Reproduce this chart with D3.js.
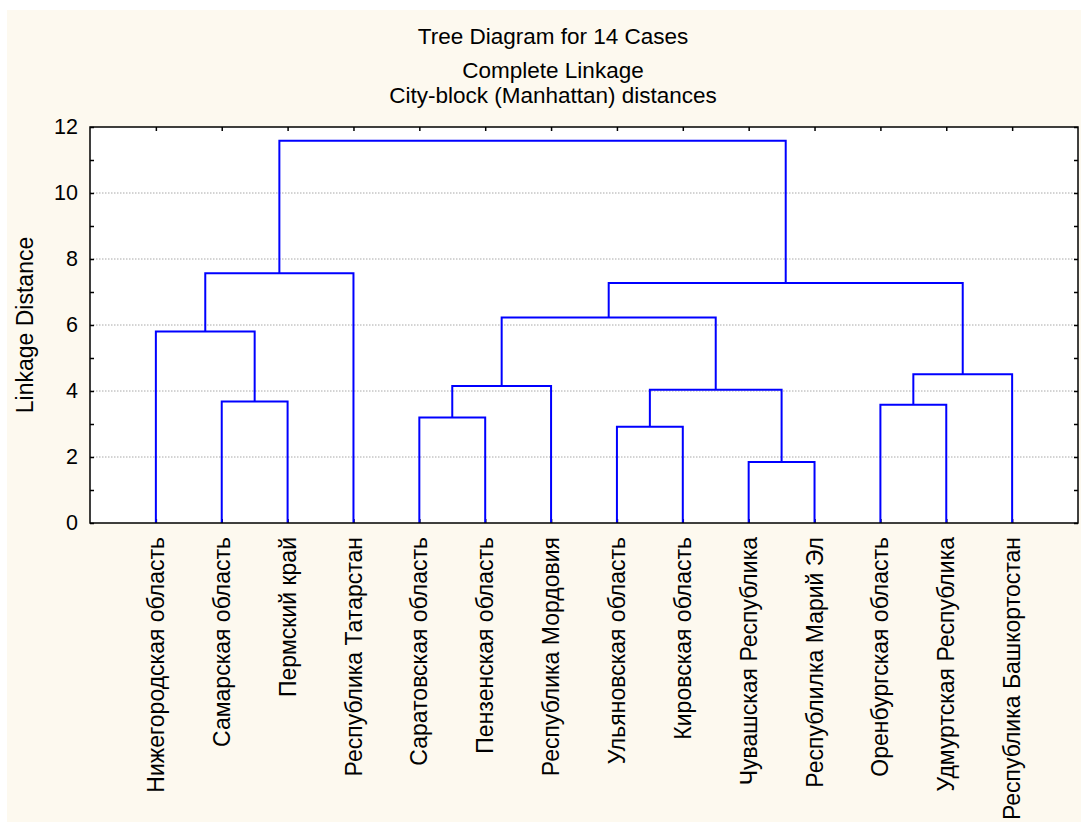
<!DOCTYPE html>
<html><head><meta charset="utf-8">
<script src="https://cdn.jsdelivr.net/npm/d3@7"></script>
<style>
html,body{margin:0;padding:0;background:#fff;}
text{font-family:"Liberation Sans",Arial,sans-serif;fill:#000;}
</style></head>
<body>
<svg id="chart" width="1081" height="822"></svg>
<script>
// ---- data ----
const titleLines = ["Tree Diagram for 14 Cases", "Complete Linkage", "City-block (Manhattan) distances"];
const yAxisTitle = "Linkage Distance";
const leaves = [
  "Нижегородская область", "Самарская область", "Пермский край", "Республика Татарстан",
  "Саратовская область", "Пензенская область", "Республика Мордовия", "Ульяновская область",
  "Кировская область", "Чувашская Республика", "Республилка Марий Эл", "Оренбургская область",
  "Удмуртская Республика", "Республика Башкортостан"
];
// merges: node id = 14 + index ; children refer to leaf index (<14) or merge node id (>=14)
const mergeLeft   = [9, 7, 4, 11, 1, 15, 16, 17, 0, 20, 23, 22, 25];
const mergeRight  = [10, 8, 5, 12, 2, 14, 6, 13, 18, 19, 21, 3, 24];
const mergeHeight = [1.85, 2.92, 3.20, 3.58, 3.68, 4.04, 4.15, 4.51, 5.80, 6.23, 7.27, 7.57, 11.58];
const yTicks = [0, 2, 4, 6, 8, 10, 12];
const yMinorTicks = [0,1,2,3,4,5,6,7,8,9,10,11,12];

// ---- layout ----
const svg = d3.select("#chart");
const L = 90, R = 1078, T = 127, B = 523;
const x = d3.scaleLinear().domain([0, leaves.length + 1]).range([L, R]);
const y = d3.scaleLinear().domain([0, 12]).range([B, T]);

svg.append("rect").attr("x", 7).attr("y", 10).attr("width", 1074).attr("height", 812).attr("fill", "#fdf9ef");
svg.append("rect").attr("x", L).attr("y", T).attr("width", R - L).attr("height", B - T).attr("fill", "#fff");

// titles
const titleY = [44, 78, 103];
titleLines.forEach((t, i) => {
  svg.append("text").attr("x", 553).attr("y", titleY[i]).attr("text-anchor", "middle")
    .style("font-size", "22.5px").text(t);
});

// gridlines
svg.append("g").selectAll("line").data(yTicks.filter(v => v > 0 && v < 12)).join("line")
  .attr("x1", L).attr("x2", R).attr("y1", d => y(d)).attr("y2", d => y(d))
  .attr("stroke", "#a8a8a8").attr("stroke-width", 1).attr("stroke-dasharray", "1.5,1.5");

// y axes (left and right), ticks inside
const yLeft = svg.append("g").attr("transform", `translate(${L},0)`)
  .call(d3.axisLeft(y).tickValues(yMinorTicks).tickSize(-4).tickFormat(d => yTicks.includes(d) ? d : "").tickPadding(12));
yLeft.select(".domain").remove();
yLeft.selectAll(".tick line").attr("stroke", "#000").attr("stroke-width", 1.5);
yLeft.selectAll(".tick text").style("font-size", "21.5px").style("font-family", "Liberation Sans, Arial, sans-serif");

const yRight = svg.append("g").attr("transform", `translate(${R},0)`)
  .call(d3.axisRight(y).tickValues(yMinorTicks).tickSize(-4).tickFormat(""));
yRight.select(".domain").remove();
yRight.selectAll(".tick line").attr("stroke", "#000").attr("stroke-width", 1.5);

// x axes top & bottom ticks inside
const leafIdx = leaves.map((d, i) => i + 1);
const xBottom = svg.append("g").attr("transform", `translate(0,${B})`)
  .call(d3.axisBottom(x).tickValues(leafIdx).tickSize(-4).tickFormat(""));
xBottom.select(".domain").remove();
xBottom.selectAll(".tick line").attr("stroke", "#000").attr("stroke-width", 1.5);
const xTop = svg.append("g").attr("transform", `translate(0,${T})`)
  .call(d3.axisTop(x).tickValues(leafIdx).tickSize(-4).tickFormat(""));
xTop.select(".domain").remove();
xTop.selectAll(".tick line").attr("stroke", "#000").attr("stroke-width", 1.5);

// dendrogram
const nodeX = {}, nodeH = {};
leaves.forEach((d, i) => { nodeX[i] = x(i + 1); nodeH[i] = 0; });
const segs = mergeHeight.map((h, k) => {
  const id = leaves.length + k, a = mergeLeft[k], b = mergeRight[k];
  nodeX[id] = (nodeX[a] + nodeX[b]) / 2; nodeH[id] = h;
  return { a, b, h };
});
svg.append("g").selectAll("path").data(segs).join("path")
  .attr("d", s => `M${nodeX[s.a]},${y(nodeH[s.a])}V${y(s.h)}H${nodeX[s.b]}V${y(nodeH[s.b])}`)
  .attr("fill", "none").attr("stroke", "#0000ff").attr("stroke-width", 2);

// plot frame
svg.append("rect").attr("x", L).attr("y", T).attr("width", R - L).attr("height", B - T)
  .attr("fill", "none").attr("stroke", "#000").attr("stroke-width", 1.5);

// leaf labels
svg.append("g").selectAll("text").data(leaves).join("text")
  .attr("transform", (d, i) => `translate(${x(i + 1)},537) rotate(-90)`)
  .attr("text-anchor", "end").attr("dy", "0.35em")
  .style("font-size", "23px").text(d => d);

// y axis title
svg.append("text").attr("transform", "translate(33,325) rotate(-90)")
  .attr("text-anchor", "middle").style("font-size", "23px").text(yAxisTitle);
</script>
</body></html>
